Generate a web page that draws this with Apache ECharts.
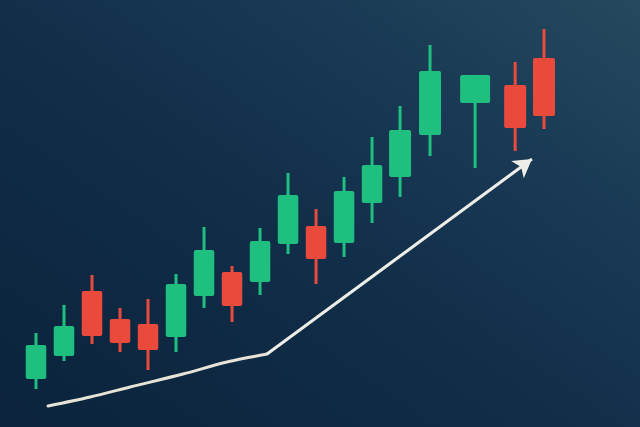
<!DOCTYPE html>
<html>
<head>
<meta charset="utf-8">
<script src="https://cdn.jsdelivr.net/npm/echarts@6/dist/echarts.min.js"></script>
<style>
html,body{margin:0;padding:0;width:640px;height:427px;overflow:hidden;}
#main{width:640px;height:427px;background:linear-gradient(215deg,#26495f 0%,#183853 30%,#102c47 60%,#0b233c 100%);}
</style>
</head>
<body>
<div id="main"></div>
<script>
// session positions (index units)
const sessions = [0,1,2,3,4,5,6,7,8,9,10,11,12,13,14.07,15.68,17.11,18.14];
const opens  = [48, 71,136,108,103, 90,131,155,145,183,201,184,224,250,292,324,342,369];
const closes = [82,101, 91, 84, 77,143,177,121,186,232,168,236,262,297,356,352,299,311];
const lows   = [38, 66, 83, 75, 57, 75,119,105,132,173,143,170,204,230,271,259,276,298];
const highs  = [94,122,152,119,128,153,200,161,199,254,218,250,290,321,382,352,365,398];
// trend arrow path
const trendX = [0.43,1.93,3.36,5.25,6.82,8.25];
const trendY = [21,30,40,53,65,73];
const arrowTip = [17.71,268];

const UP = '#1fbf80', DOWN = '#ea4a3b';
const data = sessions.map((x,i)=>[x,opens[i],closes[i],lows[i],highs[i]]);

function renderItem(params, api){
  const i = params.dataIndex;
  const x = api.value(0);
  const o = api.value(1), c = api.value(2), l = api.value(3), h = api.value(4);
  const pO = api.coord([x,o]), pC = api.coord([x,c]), pL = api.coord([x,l]), pH = api.coord([x,h]);
  const w = i === 15 ? 30 : (i >= 13 ? 22 : 20.5);
  const col = c >= o ? UP : DOWN;
  const top = Math.min(pO[1],pC[1]), bot = Math.max(pO[1],pC[1]);
  return {
    type:'group',
    children:[
      {type:'rect', shape:{x:pH[0]-1.5, y:pH[1], width:3, height:pL[1]-pH[1]}, style:{fill:col}},
      {type:'rect', shape:{x:pO[0]-w/2, y:top, width:w, height:bot-top, r:2}, style:{fill:col}}
    ]
  };
}

const chart = echarts.init(document.getElementById('main'), null, {renderer:'canvas'});
chart.setOption({
  backgroundColor:'transparent',
  animation:false,
  grid:{left:36,right:96,top:0,bottom:0},
  xAxis:{type:'value',min:0,max:18.14,show:false},
  yAxis:{type:'value',min:0,max:427,show:false},
  series:[
    {type:'custom', renderItem:renderItem, data:data, encode:{x:0,y:[1,2,3,4]}},
    {type:'line', data:trendX.map((x,i)=>[x,trendY[i]]), smooth:0.3, symbol:'none',
     lineStyle:{color:'#e7e3d6',width:3,cap:'round'},
     markLine:{silent:true, symbol:['none','arrow'], symbolSize:[16,18],
       label:{show:false},
       lineStyle:{color:'#eeeee8',width:3,type:'solid'},
       data:[[{coord:[trendX[trendX.length-1],trendY[trendY.length-1]]},{coord:arrowTip}]]}
    }
  ]
});
</script>
</body>
</html>
